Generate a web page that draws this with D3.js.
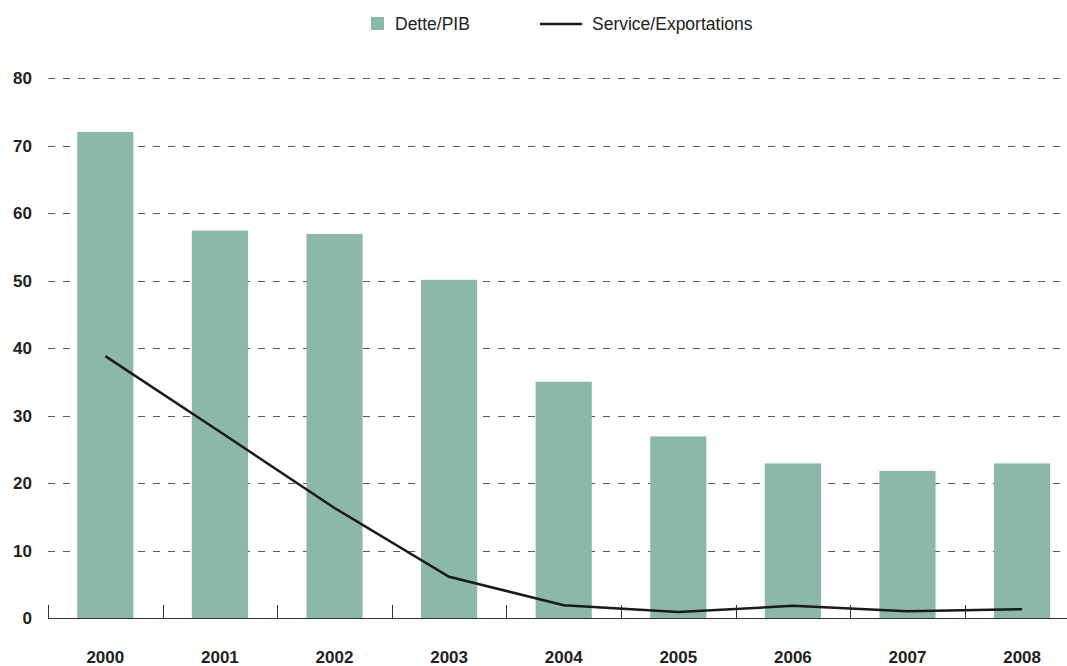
<!DOCTYPE html>
<html>
<head>
<meta charset="utf-8">
<script src="https://cdn.jsdelivr.net/npm/d3@7"></script>
<style>
  body { margin: 0; background: #fff; }
  text { font-family: "Liberation Sans", Arial, sans-serif; }
</style>
</head>
<body>
<script>
//chart data
var years = ["2000", "2001", "2002", "2003", "2004", "2005", "2006", "2007", "2008"];
var dettePib = [72.0, 57.4, 56.9, 50.1, 35.0, 26.9, 22.9, 21.8, 22.9];
var serviceExport = [38.8, 27.6, 16.3, 6.1, 1.9, 0.9, 1.8, 1.0, 1.3];
var yTicks = [0, 10, 20, 30, 40, 50, 60, 70, 80];

var chartW = 1067, chartH = 666;
var plotLeft = 48, plotBottom = 618, plotTop = 78;

var svg = d3.select("body").append("svg")
    .attr("width", chartW)
    .attr("height", chartH);

//scales
var x = d3.scaleBand()
    .domain(years)
    .range([plotLeft, plotLeft + 9 * 114.6]);
var y = d3.scaleLinear()
    .domain([0, 80])
    .range([plotBottom, plotTop]);

//dashed gridlines
svg.selectAll(".grid")
    .data(yTicks.filter(function(d) { return d > 0; }))
    .enter().append("line")
    .attr("x1", plotLeft)
    .attr("x2", chartW)
    .attr("y1", function(d) { return Math.round(y(d)) + 0.5; })
    .attr("y2", function(d) { return Math.round(y(d)) + 0.5; })
    .attr("stroke", "#5a5a5a")
    .attr("stroke-width", 1)
    .attr("stroke-dasharray", "7,8");

//y labels
svg.selectAll(".ylab")
    .data(yTicks)
    .enter().append("text")
    .attr("x", 32)
    .attr("y", function(d) { return y(d) + 6; })
    .attr("text-anchor", "end")
    .attr("font-size", 17)
    .attr("font-weight", "bold")
    .attr("fill", "#222")
    .text(function(d) { return d; });

//bars
var barW = x.bandwidth() * 0.49;
svg.selectAll(".bar")
    .data(years)
    .enter().append("rect")
    .attr("x", function(d) { return x(d) + x.bandwidth() / 2 - barW / 2; })
    .attr("y", function(d, i) { return y(dettePib[i]); })
    .attr("width", barW)
    .attr("height", function(d, i) { return plotBottom - y(dettePib[i]); })
    .attr("fill", "#8cb8aa");

//x axis line and ticks
svg.append("line")
    .attr("x1", plotLeft).attr("x2", chartW)
    .attr("y1", plotBottom + 0.5).attr("y2", plotBottom + 0.5)
    .attr("stroke", "#333").attr("stroke-width", 1);

svg.selectAll(".tick")
    .data(years)
    .enter().append("line")
    .attr("x1", function(d) { return Math.round(x(d)) + 0.5; })
    .attr("x2", function(d) { return Math.round(x(d)) + 0.5; })
    .attr("y1", plotBottom - 13)
    .attr("y2", plotBottom)
    .attr("stroke", "#333").attr("stroke-width", 1);

svg.selectAll(".xlab")
    .data(years)
    .enter().append("text")
    .attr("x", function(d) { return x(d) + x.bandwidth() / 2; })
    .attr("y", 663)
    .attr("text-anchor", "middle")
    .attr("font-size", 17)
    .attr("font-weight", "bold")
    .attr("fill", "#222")
    .text(function(d) { return d; });

//line series
var line = d3.line()
    .x(function(d, i) { return x(years[i]) + x.bandwidth() / 2; })
    .y(function(d) { return y(d); });

svg.append("path")
    .datum(serviceExport)
    .attr("d", line)
    .attr("fill", "none")
    .attr("stroke", "#1a1a1a")
    .attr("stroke-width", 2.5);

//legend
svg.append("rect")
    .attr("x", 371).attr("y", 17)
    .attr("width", 13).attr("height", 13)
    .attr("fill", "#8cb8aa");
svg.append("text")
    .attr("x", 395).attr("y", 30)
    .attr("font-size", 17.5)
    .attr("fill", "#222")
    .text("Dette/PIB");
svg.append("line")
    .attr("x1", 540).attr("x2", 582)
    .attr("y1", 24).attr("y2", 24)
    .attr("stroke", "#1a1a1a").attr("stroke-width", 2.5);
svg.append("text")
    .attr("x", 592).attr("y", 30)
    .attr("font-size", 17.5)
    .attr("fill", "#222")
    .text("Service/Exportations");
</script>
</body>
</html>
